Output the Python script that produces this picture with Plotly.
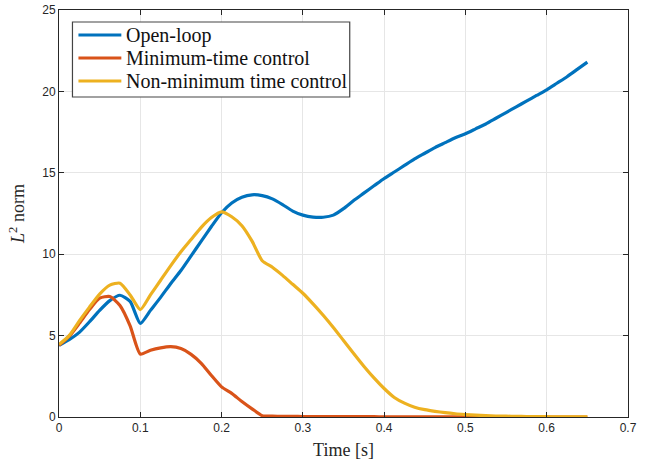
import numpy as np
import plotly.graph_objects as go

# time grid (s)
time = [round(i * 0.0125, 4) for i in range(53)]

open_loop = [4.40, 4.75, 5.20, 5.85, 6.55, 7.15, 7.48, 7.10, 5.75,
             6.55, 7.35, 8.20, 9.00, 9.90, 10.80, 11.70, 12.55,
             13.15, 13.50, 13.65, 13.60, 13.40, 13.05, 12.65, 12.40,
             12.28, 12.27, 12.40, 12.80, 13.30, 13.75, 14.20, 14.65,
             15.05, 15.45, 15.85, 16.20, 16.55, 16.85, 17.15, 17.40,
             17.70, 18.00, 18.35, 18.70, 19.05, 19.40, 19.75, 20.10,
             20.50, 20.90, 21.35, 21.80]

min_time = [4.40, 4.95, 5.75, 6.60, 7.30, 7.40, 6.85, 5.60, 3.87,
            4.10, 4.25, 4.32, 4.20, 3.85, 3.30, 2.55, 1.85,
            1.45, 0.95, 0.50, 0.08, 0.05, 0.04, 0.04, 0.03,
            0.03, 0.03, 0.02, 0.02, 0.02, 0.02, 0.02, 0.01,
            0.01, 0.01, 0.01, 0.01, 0.01, 0.01, 0.01, 0.01,
            0.01, 0.01, 0.0, 0.0, 0.0, 0.0, 0.0, 0.0,
            0.0, 0.0, 0.0, 0.0]

non_min_time = [4.45, 5.00, 5.90, 6.75, 7.55, 8.10, 8.22, 7.50, 6.60,
                7.50, 8.40, 9.30, 10.15, 10.90, 11.65, 12.25, 12.60,
                12.30, 11.75, 10.80, 9.60, 9.20, 8.70, 8.15, 7.60,
                6.95, 6.25, 5.50, 4.70, 3.90, 3.12, 2.40, 1.75,
                1.20, 0.85, 0.60, 0.45, 0.35, 0.27, 0.20, 0.15,
                0.11, 0.08, 0.06, 0.05, 0.04, 0.03, 0.02, 0.02,
                0.01, 0.01, 0.01, 0.01]

series_names = ["Open-loop", "Minimum-time control", "Non-minimum time control"]
colors = ["#0072BD", "#D95319", "#EDB120"]

x_ticks = [0, 0.1, 0.2, 0.3, 0.4, 0.5, 0.6, 0.7]
x_tick_labels = ["0", "0.1", "0.2", "0.3", "0.4", "0.5", "0.6", "0.7"]
y_ticks = [0, 5, 10, 15, 20, 25]

SERIF = "Liberation Serif"
SANS = "Liberation Sans"

fig = go.Figure()
for name, ys, c in zip(series_names, [open_loop, min_time, non_min_time], colors):
    fig.add_trace(go.Scatter(x=time, y=ys, mode="lines", name=name, showlegend=False,
                             line=dict(color=c, width=3.2, shape="spline", smoothing=0.6)))

axis_common = dict(showline=True, linecolor="#262626", linewidth=1, mirror="ticks",
                   ticks="inside", ticklen=5, tickcolor="#262626", automargin=False,
                   ticklabeloverflow="allow",
                   showgrid=True, gridcolor="#e6e6e6", gridwidth=1, zeroline=False,
                   tickfont=dict(family=SANS, size=12, color="#262626"))

fig.update_xaxes(range=[0, 0.7], tickvals=x_ticks, ticktext=x_tick_labels,
                 title=dict(text="Time [s]", font=dict(family=SERIF, size=18, color="#262626"),
                            standoff=8),
                 **axis_common)
fig.update_yaxes(range=[0, 25], tickvals=y_ticks,
                 title=dict(text="<i>L</i><sup>2</sup> norm", font=dict(family=SERIF, size=18, color="#262626"),
                            standoff=12),
                 **axis_common)

# ---- legend box (MATLAB style), placed in plot-area paper coordinates ----
PLOT_L, PLOT_W, PLOT_B, PLOT_H = 58.5, 570.5, 417.0, 407.0
def px(xp):
    return (xp - PLOT_L) / PLOT_W
def py(yp):
    return (PLOT_B - yp) / PLOT_H

fig.add_shape(type="rect", xref="paper", yref="paper",
              x0=px(72), x1=px(350), y0=py(97), y1=py(22),
              line=dict(color="#444444", width=1.2), fillcolor="white", layer="above")
for i, (name, c) in enumerate(zip(series_names, colors)):
    yc = 35 + 23 * i
    fig.add_shape(type="line", xref="paper", yref="paper",
                  x0=px(78), x1=px(121), y0=py(yc), y1=py(yc),
                  line=dict(color=c, width=3.2), layer="above")
    fig.add_annotation(xref="paper", yref="paper", x=px(124), y=py(yc),
                       xanchor="left", yanchor="middle", showarrow=False,
                       text=name, font=dict(family=SERIF, size=20, color="#111111"))

fig.update_layout(
    width=649, height=465,
    font=dict(family=SERIF, size=19, color="#111111"),
    margin=dict(l=58.5, r=20.5, t=10, b=48),
    plot_bgcolor="white", paper_bgcolor="white",
    showlegend=False,
)

# remove the default 8px page margin so the figure fills the window exactly
fig.write_html("out.html", config={"displayModeBar": False},
               post_script="document.body.style.margin='0';")
